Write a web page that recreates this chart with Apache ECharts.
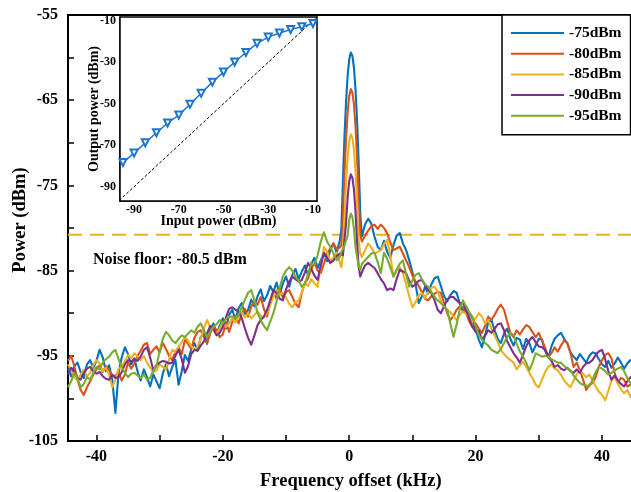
<!DOCTYPE html>
<html><head><meta charset="utf-8">
<script src="https://cdn.jsdelivr.net/npm/echarts@6/dist/echarts.min.js"></script>
<style>html,body{margin:0;padding:0;background:#fff}#c{width:631px;height:492px}</style>
</head><body><div id="c"></div>
<script>
const freq = [
-44.5,-44,-43.5,-43,-42.5,-42,-41.5,-41,-40.5,-40,
-39.5,-39,-38.5,-38,-37.5,-37,-36.5,-36,-35.5,-35,
-34.5,-34,-33.5,-33,-32.5,-32,-31.5,-31,-30.5,-30,
-29.5,-29,-28.5,-28,-27.5,-27,-26.5,-26,-25.5,-25,
-24.5,-24,-23.5,-23,-22.5,-22,-21.5,-21,-20.5,-20,
-19.5,-19,-18.5,-18,-17.5,-17,-16.5,-16,-15.5,-15,
-14.5,-14,-13.5,-13,-12.5,-12,-11.5,-11,-10.5,-10,
-9.5,-9,-8.5,-8,-7.5,-7,-6.5,-6,-5.5,-5,
-4.5,-4,-3.5,-3,-2.5,-2,
-1.5,-1.25,-1,-0.75,-0.5,-0.25,0,0.25,0.5,0.75,1,1.25,1.5,1.75,2,
2.5,3,3.5,4,4.5,5,5.5,6,6.5,7,
7.5,8,8.5,9,9.5,10,10.5,11,11.5,12,
12.5,13,13.5,14,14.5,15,15.5,16,16.5,17,
17.5,18,18.5,19,19.5,20,20.5,21,21.5,22,
22.5,23,23.5,24,24.5,25,25.5,26,26.5,27,
27.5,28,28.5,29,29.5,30,30.5,31,31.5,32,
32.5,33,33.5,34,34.5,35,35.5,36,36.5,37,
37.5,38,38.5,39,39.5,40,40.5,41,41.5,42,
42.5,43,43.5,44,44.5,45];

const p75 = [
-96.5,-97.4,-96.2,-95.8,-96.9,-97.6,-96.0,-95.5,-96.4,-95.6,
-94.3,-95.2,-96.8,-96.1,-97.8,-101.7,-97.0,-95.2,-94.0,-94.8,
-96.0,-95.3,-96.8,-97.9,-96.6,-97.5,-98.6,-97.2,-98.0,-98.8,
-97.1,-96.0,-97.4,-96.3,-95.5,-98.4,-96.8,-94.9,-95.6,-94.2,
-93.5,-94.4,-92.8,-92.3,-93.6,-92.0,-91.2,-92.4,-91.5,-90.6,
-91.8,-90.2,-89.6,-90.8,-89.4,-88.8,-90.1,-89.6,-88.4,-89.2,
-88.0,-87.2,-88.6,-87.9,-86.8,-87.5,-86.4,-87.8,-86.5,-85.7,
-86.9,-85.5,-84.8,-86.0,-85.1,-84.4,-85.6,-84.2,-83.5,-84.7,
-83.8,-82.9,-83.9,-82.6,-81.8,-82.9,
-81.5,-80.2,-74.6,-69.3,-65.2,-62.1,-60.2,-59.4,-59.8,-61.2,-63.8,-67.5,-72.4,-78.3,-81.0,
-79.6,-78.9,-79.5,-81.0,-82.2,-82.6,-81.5,-82.8,-83.5,-82.0,
-80.9,-80.6,-81.8,-82.6,-83.8,-85.2,-86.6,-88.8,-88.0,-86.9,
-87.7,-86.6,-85.9,-85.7,-86.8,-88.0,-88.6,-87.9,-87.4,-87.6,
-88.9,-89.8,-89.2,-90.0,-90.8,-91.9,-93.1,-94.0,-92.6,-91.1,
-90.8,-92.0,-93.0,-93.5,-92.4,-91.8,-93.0,-93.8,-92.9,-93.1,
-94.2,-93.0,-93.5,-94.6,-93.8,-93.0,-93.1,-94.4,-95.2,-93.9,
-93.0,-92.6,-92.3,-93.0,-93.5,-94.6,-95.1,-95.5,-94.8,-95.3,
-95.8,-95.0,-94.6,-94.7,-95.4,-96.0,-96.3,-95.6,-96.4,-95.9,
-95.2,-95.8,-96.5,-95.9,-95.5,-96.0];

const p80 = [
-95.6,-95.0,-96.2,-97.8,-99.0,-99.6,-98.7,-98.0,-97.2,-96.6,
-96.1,-96.9,-96.2,-96.7,-97.4,-97.3,-97.0,-97.9,-97.2,-95.8,
-96.5,-95.9,-95.0,-94.4,-93.7,-93.5,-94.8,-94.3,-93.9,-94.6,
-93.5,-94.2,-95.0,-95.5,-94.5,-94.0,-94.8,-93.1,-93.6,-94.2,
-92.9,-92.2,-92.0,-92.8,-93.5,-92.4,-91.5,-92.0,-92.8,-92.5,
-91.1,-92.2,-91.0,-90.3,-91.2,-90.0,-89.5,-90.4,-89.2,-88.6,
-89.0,-88.1,-89.5,-90.4,-88.7,-87.6,-88.3,-87.1,-88.2,-87.5,
-87.3,-88.1,-88.9,-89.3,-87.6,-86.4,-85.9,-84.8,-84.1,-85.0,
-85.3,-84.2,-83.0,-82.4,-81.8,-82.5,
-82.3,-82.0,-78.9,-73.6,-69.5,-66.4,-64.5,-63.7,-64.1,-65.5,-68.1,-71.8,-76.7,-80.8,-81.6,
-80.9,-80.3,-79.8,-79.6,-80.1,-79.6,-80.0,-80.6,-81.7,-82.6,
-82.4,-82.2,-83.0,-83.8,-84.6,-85.6,-86.3,-86.8,-87.5,-88.3,
-88.5,-88.0,-87.7,-87.5,-87.6,-88.8,-90.0,-90.8,-90.3,-89.6,
-89.2,-89.3,-90.0,-91.0,-91.6,-91.2,-91.8,-92.3,-91.5,-90.4,
-90.8,-90.2,-89.5,-89.0,-89.6,-91.0,-92.3,-92.8,-92.0,-92.5,
-91.9,-91.4,-91.6,-92.2,-92.8,-92.3,-93.2,-94.1,-95.1,-94.7,
-94.0,-94.5,-93.8,-93.2,-93.5,-94.6,-96.3,-95.8,-96.7,-97.8,
-99.0,-98.4,-98.2,-97.5,-96.3,-95.5,-94.9,-94.7,-95.3,-97.0,
-98.2,-97.6,-97.8,-98.6,-98.4,-97.9];

const p85 = [
-96.0,-96.8,-97.5,-97.9,-97.2,-96.6,-97.4,-97.0,-96.1,-95.5,
-95.9,-96.8,-96.4,-97.2,-98.7,-97.8,-96.5,-96.3,-95.6,-94.9,
-95.3,-94.7,-95.1,-95.5,-95.0,-95.8,-96.4,-96.9,-96.7,-96.0,
-96.3,-96.6,-95.4,-94.3,-94.6,-93.9,-93.4,-92.8,-93.2,-93.9,
-94.2,-94.0,-93.0,-91.8,-90.8,-91.6,-92.0,-92.5,-91.8,-91.0,
-91.6,-91.2,-90.6,-91.1,-90.4,-89.9,-90.5,-90.0,-90.6,-90.2,
-89.8,-90.3,-90.5,-90.0,-89.1,-88.0,-87.3,-87.8,-87.6,-88.2,
-88.9,-89.3,-88.7,-88.5,-87.6,-86.5,-86.8,-86.0,-86.5,-86.9,
-84.5,-82.2,-82.8,-83.9,-83.5,-82.9,
-84.0,-84.6,-83.2,-78.9,-74.8,-71.7,-69.8,-69.0,-69.4,-70.8,-73.4,-77.1,-81.5,-83.0,-83.4,
-82.6,-81.8,-82.3,-83.0,-82.8,-82.6,-81.9,-81.4,-83.2,-85.7,
-85.0,-84.6,-85.3,-86.6,-88.0,-89.3,-88.7,-87.9,-87.6,-88.2,
-87.5,-87.0,-86.9,-87.4,-88.6,-89.2,-89.6,-89.9,-90.4,-90.8,
-90.2,-89.8,-90.1,-90.4,-91.0,-90.6,-90.0,-90.4,-91.2,-90.8,
-91.8,-92.6,-93.4,-94.3,-94.8,-95.2,-95.5,-95.8,-96.6,-96.1,
-95.7,-96.3,-97.0,-97.6,-98.4,-98.7,-97.8,-96.9,-96.3,-96.0,
-96.5,-96.7,-97.2,-97.9,-98.3,-98.7,-97.9,-97.2,-96.7,-97.1,
-97.5,-97.2,-97.9,-98.6,-99.2,-99.6,-100.2,-99.1,-97.9,-97.5,
-98.3,-98.9,-99.4,-99.0,-99.8,-99.2];

const p90 = [
-97.2,-96.4,-96.8,-97.6,-97.8,-97.0,-96.5,-96.3,-96.8,-97.1,
-96.9,-97.4,-97.7,-97.8,-97.2,-97.6,-97.5,-96.9,-96.0,-95.5,
-95.7,-95.4,-95.6,-95.1,-94.3,-94.0,-95.2,-96.7,-96.1,-95.8,
-95.6,-95.7,-95.9,-95.8,-95.0,-94.3,-95.4,-97.0,-96.2,-94.8,
-94.3,-94.4,-93.8,-93.3,-92.4,-91.5,-91.8,-92.6,-92.3,-91.6,
-90.5,-89.5,-89.3,-89.6,-89.8,-90.6,-91.8,-92.9,-93.7,-92.6,
-91.4,-90.8,-90.4,-89.6,-88.5,-87.3,-87.6,-88.3,-88.5,-87.2,
-86.3,-85.7,-86.0,-86.3,-86.1,-85.2,-84.1,-84.8,-85.6,-86.1,
-84.4,-82.9,-83.5,-84.1,-83.8,-83.3,
-83.0,-82.9,-83.2,-83.4,-79.5,-76.4,-74.5,-73.7,-74.1,-75.5,-78.1,-81.8,-84.6,-85.7,-85.2,
-84.4,-84.1,-84.4,-84.7,-85.3,-86.0,-86.5,-87.3,-87.1,-87.3,
-86.0,-84.9,-85.1,-85.3,-86.2,-86.9,-86.6,-86.2,-86.1,-86.7,
-87.3,-87.6,-88.5,-89.6,-90.0,-89.2,-88.4,-88.1,-88.1,-88.5,
-88.8,-88.8,-89.7,-90.6,-91.6,-92.2,-92.0,-93.1,-92.6,-92.0,
-92.3,-91.8,-91.3,-91.2,-92.0,-93.3,-94.0,-94.7,-95.2,-95.8,
-94.9,-93.9,-93.2,-92.8,-93.4,-93.9,-94.0,-94.3,-95.1,-95.6,
-96.3,-96.1,-96.5,-96.7,-96.4,-96.8,-97.0,-96.6,-97.0,-96.3,
-95.9,-95.8,-95.5,-94.9,-94.5,-94.3,-95.4,-96.8,-97.8,-97.3,
-97.9,-98.3,-98.6,-98.0,-97.5,-97.8];

const p95 = [
-98.7,-98.0,-97.0,-97.6,-98.7,-98.3,-97.5,-97.8,-97.0,-96.3,
-96.6,-95.8,-95.4,-95.1,-94.6,-94.3,-95.4,-96.3,-97.0,-97.5,
-97.1,-97.0,-97.3,-97.6,-97.2,-97.8,-97.6,-96.7,-96.2,-94.5,
-93.0,-92.2,-92.6,-93.2,-93.5,-93.0,-92.6,-92.8,-92.4,-92.0,
-92.3,-91.6,-91.2,-92.0,-92.8,-92.2,-91.6,-91.3,-90.8,-91.2,
-90.7,-90.4,-90.4,-90.6,-90.2,-89.3,-88.4,-87.6,-87.3,-88.5,
-90.0,-90.8,-91.5,-92.0,-91.0,-90.0,-88.6,-87.0,-85.7,-85.0,
-84.6,-85.0,-85.7,-86.2,-86.9,-86.5,-85.4,-84.1,-84.3,-83.2,
-81.6,-80.5,-81.6,-82.2,-83.0,-83.8,
-83.4,-82.8,-82.5,-82.0,-81.8,-80.9,-79.1,-78.3,-78.7,-80.1,-82.3,-83.4,-84.5,-84.9,-84.2,
-83.8,-83.4,-83.0,-82.9,-84.0,-85.3,-82.9,-83.6,-84.6,-85.7,
-84.9,-84.2,-83.8,-85.4,-86.9,-86.2,-85.5,-85.3,-86.0,-86.6,
-86.9,-87.5,-88.1,-88.5,-88.8,-89.2,-89.6,-91.2,-92.8,-91.3,
-89.5,-88.5,-89.2,-89.9,-90.4,-91.5,-92.6,-93.0,-93.5,-93.8,
-94.3,-94.5,-94.7,-94.2,-93.5,-92.8,-92.3,-92.6,-93.6,-94.5,
-95.1,-95.8,-96.7,-95.8,-94.7,-94.9,-95.1,-95.0,-95.1,-95.4,
-95.6,-95.8,-95.8,-96.2,-96.5,-96.7,-97.3,-97.8,-98.2,-98.4,
-98.5,-98.6,-97.8,-96.9,-96.3,-96.5,-96.8,-97.2,-97.0,-96.7,
-96.5,-96.3,-96.8,-97.6,-98.2,-99.5];

const seriesNames = ['-75dBm', '-80dBm', '-85dBm', '-90dBm', '-95dBm'];
const seriesValues = [p75, p80, p85, p90, p95];
const seriesColors = ['#0072BD', '#D95319', '#EDB120', '#7E2F8E', '#77AC30'];

const noiseFloor = -80.8;
const noiseLabel = 'Noise floor: -80.5 dBm';

const xTicks = [-40, -30, -20, -10, 0, 10, 20, 30, 40];
const xLabels = [-40, -20, 0, 20, 40];
const yTicks = [-105, -100, -95, -90, -85, -80, -75, -70, -65, -60, -55];
const yLabels = [-105, -95, -85, -75, -65, -55];

const inputPower = [-95,-90,-85,-80,-75,-70,-65,-60,-55,-50,-45,-40,-35,-30,-25,-20,-15,-10];
const outputPower = [-78.3,-73.8,-68.8,-64.0,-59.3,-55.5,-50.3,-45.0,-39.6,-34.7,-29.9,-25.3,-20.9,-17.9,-15.9,-14.2,-12.9,-11.3];
const unityLine = [[-100,-100],[0,0]];
const insetTicks = [-90, -80, -70, -60, -50, -40, -30, -20, -10];
const insetLabels = [-90, -70, -50, -30, -10];

const FONT = '"Liberation Serif","Times New Roman",serif';

const chart = echarts.init(document.getElementById('c'), null, {renderer: 'canvas'});

const mainSeries = seriesNames.map((name, k) => ({
  name: name,
  type: 'line',
  xAxisIndex: 0, yAxisIndex: 0,
  data: freq.map((f, i) => [f, seriesValues[k][i]]),
  symbol: 'none',
  lineStyle: {color: seriesColors[k], width: 2.1, join: 'round'},
  itemStyle: {color: seriesColors[k]},
  z: 2
}));

const tickLbl = (size) => ({fontFamily: FONT, fontWeight: 'bold', fontSize: size, color: '#000'});

const option = {
  backgroundColor: '#fff',
  animation: false,
  grid: [
    {left: 68, top: 15, width: 565.6, height: 426, outerBoundsMode: 'none', containLabel: false,
     show: true, borderColor: '#000', borderWidth: 2, backgroundColor: 'transparent', z: 0},
    {left: 120, top: 17, width: 197, height: 184, outerBoundsMode: 'none', containLabel: false,
     show: true, borderColor: '#000', borderWidth: 1.5, backgroundColor: '#fff', z: 5}
  ],
  xAxis: [
    {
      type: 'value', gridIndex: 0, min: -44.5, max: 45,
      name: 'Frequency offset (kHz)', nameLocation: 'middle', nameGap: 31, nameMoveOverlap: false,
      nameTextStyle: tickLbl(18.5),
      axisLine: {show: true, onZero: false, lineStyle: {color: '#000', width: 2}},
      axisTick: {show: true, inside: true, length: 6, customValues: xTicks, lineStyle: {color: '#000', width: 1.5}},
      axisLabel: Object.assign({show: true, margin: 8, customValues: xLabels}, tickLbl(16)),
      splitLine: {show: false}
    },
    {
      type: 'value', gridIndex: 1, min: -96.3, max: -8.2,
      name: 'Input power (dBm)', nameLocation: 'middle', nameGap: 13, nameMoveOverlap: false,
      nameTextStyle: tickLbl(14),
      axisLine: {show: true, onZero: false, lineStyle: {color: '#000', width: 1.5}},
      axisTick: {show: true, inside: true, length: 3, customValues: insetTicks, lineStyle: {color: '#000', width: 1}},
      axisLabel: Object.assign({show: true, margin: 3, customValues: insetLabels}, tickLbl(12)),
      splitLine: {show: false}
    }
  ],
  yAxis: [
    {
      type: 'value', gridIndex: 0, min: -105, max: -55,
      name: 'Power (dBm)', nameLocation: 'middle', nameGap: 38, nameMoveOverlap: false,
      nameTextStyle: Object.assign({padding: [0, 0, 0, 16]}, tickLbl(18.5)),
      axisLine: {show: true, onZero: false, lineStyle: {color: '#000', width: 2}},
      axisTick: {show: true, inside: true, length: 6, customValues: yTicks, lineStyle: {color: '#000', width: 1.5}},
      axisLabel: Object.assign({show: true, margin: 10, customValues: yLabels}, tickLbl(16)),
      splitLine: {show: false}
    },
    {
      type: 'value', gridIndex: 1, min: -96.9, max: -8.2,
      name: 'Output power (dBm)', nameLocation: 'middle', nameGap: 19, nameMoveOverlap: false,
      nameTextStyle: tickLbl(14),
      axisLine: {show: true, onZero: false, lineStyle: {color: '#000', width: 1.5}},
      axisTick: {show: true, inside: true, length: 3, customValues: insetTicks, lineStyle: {color: '#000', width: 1}},
      axisLabel: Object.assign({show: true, margin: 4, customValues: insetLabels}, tickLbl(12)),
      splitLine: {show: false}
    }
  ],
  legend: {
    data: seriesNames, orient: 'vertical', left: 502, top: 15,
    padding: [10, 9, 11, 9], itemGap: 4.7, itemWidth: 53, itemHeight: 2,
    icon: 'rect',
    borderColor: '#000', borderWidth: 1.5, backgroundColor: '#fff',
    textStyle: Object.assign({lineHeight: 14}, tickLbl(15.5)),
    z: 10
  },
  graphic: [
    {type: 'text', left: 93, top: 252, z: 10,
     style: {text: noiseLabel, font: 'bold 16px "Liberation Serif","Times New Roman",serif', fill: '#000'}}
  ],
  series: [
    {
      name: 'noise', type: 'line', xAxisIndex: 0, yAxisIndex: 0,
      data: [[-44.5, noiseFloor], [45, noiseFloor]], symbol: 'none',
      lineStyle: {color: '#EDB120', width: 2, type: [14, 8]}, z: 1, silent: true
    },
    ...mainSeries,
    {
      name: 'unity', type: 'line', xAxisIndex: 1, yAxisIndex: 1,
      data: unityLine, symbol: 'none',
      lineStyle: {color: '#000', width: 1, type: [3, 2]}, z: 6, silent: true
    },
    {
      name: 'gain', type: 'line', xAxisIndex: 1, yAxisIndex: 1,
      data: inputPower.map((v, i) => [v, outputPower[i]]),
      symbol: 'emptyTriangle', symbolRotate: 180, symbolSize: 7,
      lineStyle: {color: '#1c76cf', width: 1.5},
      itemStyle: {color: '#1c76cf', borderColor: '#1c76cf', borderWidth: 1.2},
      z: 7
    }
  ]
};
chart.setOption(option);
</script>
</body></html>
